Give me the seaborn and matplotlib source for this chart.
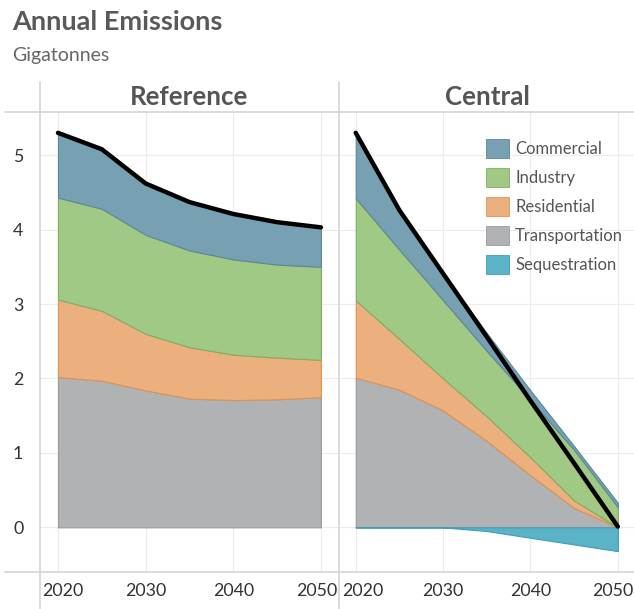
import numpy as np
import pandas as pd
import matplotlib
matplotlib.use("Agg")
import matplotlib.pyplot as plt
import matplotlib.transforms as mtransforms
from matplotlib.patches import Patch
from matplotlib.lines import Line2D
import seaborn as sns

sns.set_theme(style="whitegrid")
plt.rcParams['font.family'] = ['Lato', 'DejaVu Sans']

years = [2020, 2025, 2030, 2035, 2040, 2045, 2050]
sectors = ["Transportation", "Residential", "Industry", "Commercial"]
legend_order = ["Commercial", "Industry", "Residential", "Transportation", "Sequestration"]

# Reference scenario (Gt)
ref_transportation = [2.02, 1.97, 1.84, 1.73, 1.71, 1.72, 1.75]
ref_residential = [1.04, 0.94, 0.76, 0.69, 0.61, 0.56, 0.50]
ref_industry = [1.37, 1.37, 1.33, 1.30, 1.28, 1.25, 1.25]
ref_commercial = [0.87, 0.80, 0.69, 0.65, 0.61, 0.57, 0.53]
ref_sequestration = [0, 0, 0, 0, 0, 0, 0]

# Central scenario (Gt)
cen_transportation = [2.01, 1.85, 1.57, 1.16, 0.70, 0.26, 0.00]
cen_residential = [1.04, 0.68, 0.43, 0.33, 0.24, 0.10, 0.00]
cen_industry = [1.37, 1.20, 1.05, 0.88, 0.77, 0.68, 0.27]
cen_commercial = [0.88, 0.53, 0.36, 0.24, 0.13, 0.05, 0.06]
cen_sequestration = [0, 0, 0, -0.05, -0.14, -0.23, -0.32]

fill = {"Commercial": "#77a0b2", "Industry": "#a1c986", "Residential": "#ecb07e",
        "Transportation": "#b1b2b4", "Sequestration": "#5ab3c6"}
edge = {"Commercial": "#5b8799", "Industry": "#7fae62", "Residential": "#e0924f",
        "Transportation": "#9a9b9e", "Sequestration": "#3f9fb4"}

scenarios = {
    "Reference": [ref_transportation, ref_residential, ref_industry, ref_commercial, ref_sequestration],
    "Central": [cen_transportation, cen_residential, cen_industry, cen_commercial, cen_sequestration],
}

W, H = 634, 609
fig = plt.figure(figsize=(W / 100, H / 100), dpi=100)

panels = {"Reference": (40, 338, 2017.95, 2051.95), "Central": (340, 634, 2018.2, 2051.85)}
txt = "#555555"

for name, series in scenarios.items():
    x0, x1, xmin, xmax = panels[name]
    ax = fig.add_axes([x0 / W, (H - 572) / H, (x1 - x0) / W, (572 - 112) / H])
    base = np.zeros(len(years))
    for sec, vals in zip(sectors, series[:4]):
        top = base + np.array(vals)
        ax.fill_between(years, base, top, facecolor=fill[sec], edgecolor=edge[sec],
                        linewidth=0.8, zorder=2)
        base = top
    seq = np.array(series[4])
    if seq.min() < 0:
        ax.fill_between(years, 0, seq, facecolor=fill["Sequestration"],
                        edgecolor=edge["Sequestration"], linewidth=0.8, zorder=2)
    total = pd.DataFrame({"Year": years, "Total": base + seq})
    sns.lineplot(data=total, x="Year", y="Total", color="black", linewidth=3.2,
                 ax=ax, zorder=4, solid_capstyle="round")

    ax.set_xlim(xmin, xmax)
    ax.set_ylim(-0.6, 5.58)
    ax.set_xticks([2020, 2030, 2040, 2050])
    ax.set_yticks([0, 1, 2, 3, 4, 5])
    ax.grid(True, color="#ececec", linewidth=0.8)
    ax.set_axisbelow(True)
    for s in ax.spines.values():
        s.set_visible(False)
    ax.set_xlabel("")
    ax.set_ylabel("")
    ax.tick_params(axis="x", labelsize=12.8, colors="#333333", pad=8, length=0)
    ax.tick_params(axis="y", labelsize=12.8, colors="#333333", pad=12, length=0)

    # keep the outer year labels inside their pane
    labels = ax.get_xticklabels()
    first_px = x0 + (2020 - xmin) / (xmax - xmin) * (x1 - x0)
    last_px = x0 + (2050 - xmin) / (xmax - xmin) * (x1 - x0)
    labels[0].set_horizontalalignment("left")
    labels[0].set_transform(labels[0].get_transform() + mtransforms.ScaledTranslation(
        (x0 + 2 - first_px) / 100, 0, fig.dpi_scale_trans))
    labels[-1].set_horizontalalignment("right")
    labels[-1].set_transform(labels[-1].get_transform() + mtransforms.ScaledTranslation(
        (x1 - 1 - last_px) / 100, 0, fig.dpi_scale_trans))

    if name == "Central":
        ax.set_yticklabels([])
        handles = [Patch(facecolor=fill[k], edgecolor=edge[k], linewidth=0.6) for k in legend_order]
        ax.legend(handles, legend_order, loc="upper left", frameon=False,
                  bbox_to_anchor=(486 / W, 1 - 139 / H), bbox_transform=fig.transFigure,
                  fontsize=12, handlelength=1.35, handleheight=1.35, labelspacing=0.62,
                  handletextpad=0.4, borderpad=0, borderaxespad=0, labelcolor=txt)
    fig.text((x0 + x1) / 2 / W, 1 - 97 / H, name, ha="center", va="center",
             fontsize=18.6, fontweight="bold", color=txt)

# frame lines of the table layout
line_c = "#d4d4d4"
for y in (112, 572):
    fig.add_artist(Line2D([5 / W, 1], [1 - y / H, 1 - y / H], color=line_c, linewidth=1.2))
for x in (40, 339):
    fig.add_artist(Line2D([x / W, x / W], [0, 1 - 82 / H], color=line_c, linewidth=1.2))

fig.text(12 / W, 1 - 22 / H, "Annual Emissions", ha="left", va="center",
         fontsize=19.5, fontweight="bold", color="#595959")
fig.text(12 / W, 1 - 55 / H, "Gigatonnes", ha="left", va="center",
         fontsize=14, color="#666666")

fig.savefig("out.png", dpi=100)
